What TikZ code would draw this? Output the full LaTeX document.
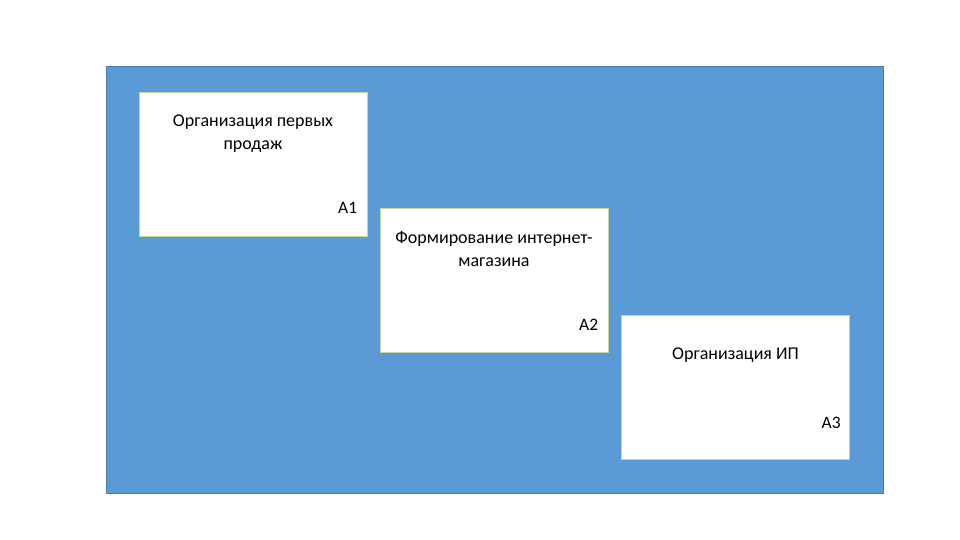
\documentclass[tikz,border=0pt]{standalone}
\usepackage{fontspec}
\setmainfont{Carlito}
\usetikzlibrary{positioning}
\definecolor{panelblue}{RGB}{91,155,213}
\definecolor{paneledge}{RGB}{72,124,172}
\definecolor{boxedge}{RGB}{196,215,155}
\tikzset{
  card/.style={draw=boxedge, fill=white, line width=0.8pt,
    minimum width=228pt, minimum height=144pt, inner sep=0pt},
  cardtitle/.style={align=center, inner sep=0pt,
    font=\fontsize{18}{23}\selectfont},
  cardcode/.style={inner sep=0pt, font=\fontsize{17.5}{20}\selectfont}
}
\begin{document}
\begin{tikzpicture}[x=1pt,y=-1pt]
  \useasboundingbox (0,0) rectangle (960,540);
  \fill[white] (0,0) rectangle (960,540);
  \draw[fill=panelblue, draw=paneledge, line width=0.6pt] (106,66) rectangle (883,493);

  % three work cards, stepping down to the right
  \node[card] (a1) at (253,164) {};
  \node[card] (a2) at (494,280) {};
  \node[card] (a3) at (735.5,387) {};

  \node[cardtitle, below=23pt of a1.north] (t1) {Организация первых\\продаж};
  \node[cardtitle, below=23.5pt of a2.north] (t2) {Формирование интернет-\\магазина};
  \node[cardtitle, below=33pt of a3.north] (t3) {Организация ИП};

  \node[cardcode, above left=23pt and 10pt of a1.south east] (c1) {А1};
  \node[cardcode, above left=22pt and 10pt of a2.south east] (c2) {А2};
  \node[cardcode, above left=31pt and 9pt of a3.south east] (c3) {А3};
\end{tikzpicture}
\end{document}
